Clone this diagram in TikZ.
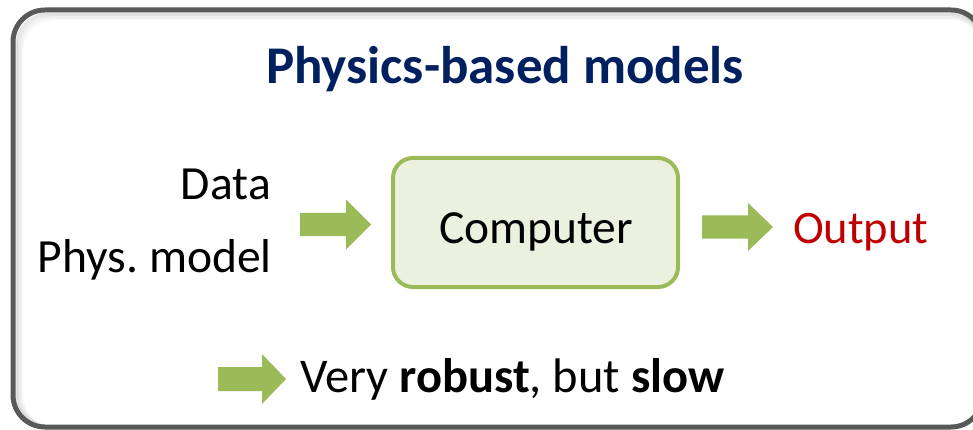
\documentclass[tikz,border=0pt]{standalone}
\usepackage{fontspec}
\setmainfont{Carlito}
\definecolor{frame}{HTML}{595959}
\definecolor{navy}{HTML}{002060}
\definecolor{agreen}{HTML}{9BBB59}
\definecolor{boxfill}{HTML}{EBF1DE}
\definecolor{outred}{HTML}{C00000}
\tikzset{
  txt/.style={inner sep=0pt, anchor=base, font=\fontsize{46.5}{55}\selectfont},
  blockarrow/.style={fill=agreen, draw=none},
}
% \barrow{name}{x1}{xh}{x2}{yc}{shaft half}{head half}
\newcommand{\barrow}[7]{%
  \fill[blockarrow] (#2,#5-#6) -- (#3,#5-#6) -- (#3,#5-#7) -- (#4,#5) -- (#3,#5+#7) -- (#3,#5+#6) -- (#2,#5+#6) -- cycle;
  \coordinate (#1) at (#4,#5);}
\begin{document}
\frenchspacing
\begin{tikzpicture}[x=1pt,y=-1pt]
\useasboundingbox (0,0) rectangle (973,430);
\clip (0,0) rectangle (973,430);
\fill[white] (0,0) rectangle (973,430);
% soft inner shadow
\foreach \i/\o in {1/0.10,2/0.08,3/0.06,4/0.04,5/0.02}{
  \draw[black, opacity=\o, line width=2pt, rounded corners=32pt] (13+2+\i*1.5,10+2+\i*1.5) rectangle (983,427);
}
% frame
\draw[frame, line width=5pt, rounded corners=32pt] (13,10) rectangle (983,427);
% title
\node[txt, font=\fontsize{53}{62}\selectfont\bfseries, text=navy] (title) at (505,84) {Physics-based models};
% inputs
\node[txt, anchor=base east, font=\fontsize{47.6}{57}\selectfont] (data) at (271,200) {Data};
\node[txt, anchor=base east, font=\fontsize{47.6}{57}\selectfont] (phys) at (272,272) {Phys. model};
% computer box
\node[draw=agreen, fill=boxfill, line width=4pt, rounded corners=20pt, minimum width=285pt, minimum height=129pt, inner sep=0pt] (comp) at (535.5,222.5) {};
\node[txt, font=\fontsize{47.5}{56}\selectfont] (comptxt) at (536,243) {Computer};
% arrows
\barrow{a1}{300}{346}{371}{224.5}{11.5}{25}
\barrow{a2}{702}{748}{773}{227}{11.5}{24}
\node[txt, anchor=base west, text=outred] (out) at (793,243) {Output};
% bottom
\barrow{a3}{218}{262}{286}{379}{12}{25}
\node[txt, anchor=base west, font=\fontsize{48.5}{58}\selectfont] (concl) at (300,392) {Very \textbf{robust}, but \textbf{slow}};
\end{tikzpicture}
\end{document}
